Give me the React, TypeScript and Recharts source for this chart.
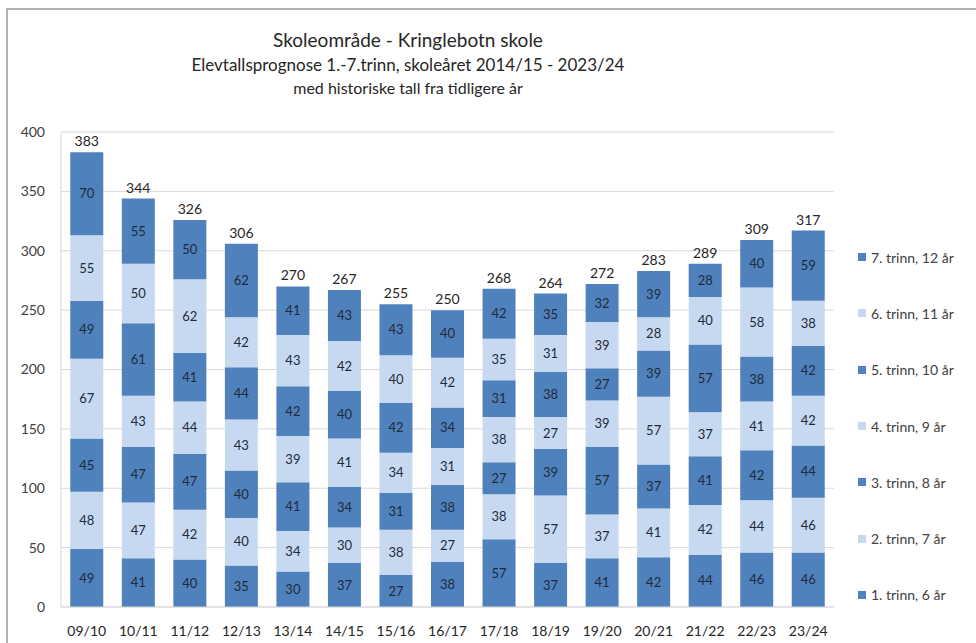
import React from "react";
import { BarChart, Bar, XAxis, YAxis, CartesianGrid, LabelList } from "recharts";

const years = ["09/10","10/11","11/12","12/13","13/14","14/15","15/16","16/17","17/18","18/19","19/20","20/21","21/22","22/23","23/24"];
const trinn1 = [49,41,40,35,30,37,27,38,57,37,41,42,44,46,46];
const trinn2 = [48,47,42,40,34,30,38,27,38,57,37,41,42,44,46];
const trinn3 = [45,47,47,40,41,34,31,38,27,39,57,37,41,42,44];
const trinn4 = [67,43,44,43,39,41,34,31,38,27,39,57,37,41,42];
const trinn5 = [49,61,41,44,42,40,42,34,31,38,27,39,57,38,42];
const trinn6 = [55,50,62,42,43,42,40,42,35,31,39,28,40,58,38];
const trinn7 = [70,55,50,62,41,43,43,40,42,35,32,39,28,40,59];
const totals = [383,344,326,306,270,267,255,250,268,264,272,283,289,309,317];
const seriesNames = ["1. trinn, 6 år","2. trinn, 7 år","3. trinn, 8 år","4. trinn, 9 år","5. trinn, 10 år","6. trinn, 11 år","7. trinn, 12 år"];
const yTicks = [0,50,100,150,200,250,300,350,400];

const DARK = "#4F81BD";
const LIGHT = "#C6D9F0";
const seriesColors = [DARK, LIGHT, DARK, LIGHT, DARK, LIGHT, DARK];
const seriesValues = [trinn1, trinn2, trinn3, trinn4, trinn5, trinn6, trinn7];
const keys = ["t1","t2","t3","t4","t5","t6","t7"];

const data = years.map((y, i) => {
  const row: any = { year: y, total: totals[i] };
  keys.forEach((k, s) => { row[k] = seriesValues[s][i]; });
  return row;
});

const FONT = "Lato, 'Open Sans', sans-serif";

const TotalLabel = (p: any) => {
  const { x, y, width, index } = p;
  return (
    <text x={x + width / 2} y={y - 6} textAnchor="middle" fontFamily={FONT} fontSize={14} fill="#262626">
      {totals[index]}
    </text>
  );
};

export default function App() {
  return (
    <div style={{ position: "absolute", left: 0, top: 0, width: 976, height: 643, background: "#fff", overflow: "hidden" }}>
      <div style={{ position: "absolute", left: 6, top: 8, width: 990, height: 660, border: "2px solid #b0b0b0", boxSizing: "border-box" }} />
      <div style={{ position: "absolute", left: 0, top: 27, width: 816, textAlign: "center", fontFamily: FONT, color: "#262626" }}>
        <div style={{ fontSize: 19, lineHeight: "26px" }}>Skoleområde - Kringlebotn skole</div>
        <div style={{ fontSize: 17, lineHeight: "24px" }}>Elevtallsprognose 1.-7.trinn, skoleåret 2014/15 - 2023/24</div>
        <div style={{ fontSize: 16, lineHeight: "22px" }}>med historiske tall fra tidligere år</div>
      </div>
      <div style={{ position: "absolute", left: 0, top: 0 }}>
        <BarChart width={976} height={643} data={data} margin={{ top: 132, right: 142, bottom: 6, left: 0 }} barCategoryGap="18%">
          <CartesianGrid horizontal={true} vertical={false} stroke="#d9d9d9" />
          <XAxis dataKey="year" height={30} tickLine={false} axisLine={{ stroke: "#d9d9d9" }} tick={{ fontFamily: FONT, fontSize: 14, fill: "#262626" }} tickMargin={13} interval={0} />
          <YAxis width={61} domain={[0, 400]} ticks={yTicks} tickLine={false} axisLine={{ stroke: "#d9d9d9" }} tick={{ fontFamily: FONT, fontSize: 14, fill: "#404040" }} tickMargin={10} />
          {keys.map((k, s) => (
            <Bar key={k} dataKey={k} stackId="a" fill={seriesColors[s]} isAnimationActive={false} name={seriesNames[s]}>
              <LabelList dataKey={k} position="center" style={{ fontFamily: FONT, fontSize: 13, fill: "#1f2a3a" }} />
              {s === 6 ? <LabelList dataKey={k} content={TotalLabel} /> : null}
            </Bar>
          ))}
        </BarChart>
      </div>
      <div style={{ position: "absolute", left: 858, top: 229, width: 130, fontFamily: FONT, fontSize: 14, color: "#404040" }}>
        {[6,5,4,3,2,1,0].map((s) => (
          <div key={s} style={{ height: 56.3, display: "flex", alignItems: "center", whiteSpace: "nowrap" }}>
            <span style={{ display: "inline-block", width: 8, height: 8, background: seriesColors[s], marginRight: 5 }} />
            <span>{seriesNames[s]}</span>
          </div>
        ))}
      </div>
    </div>
  );
}
